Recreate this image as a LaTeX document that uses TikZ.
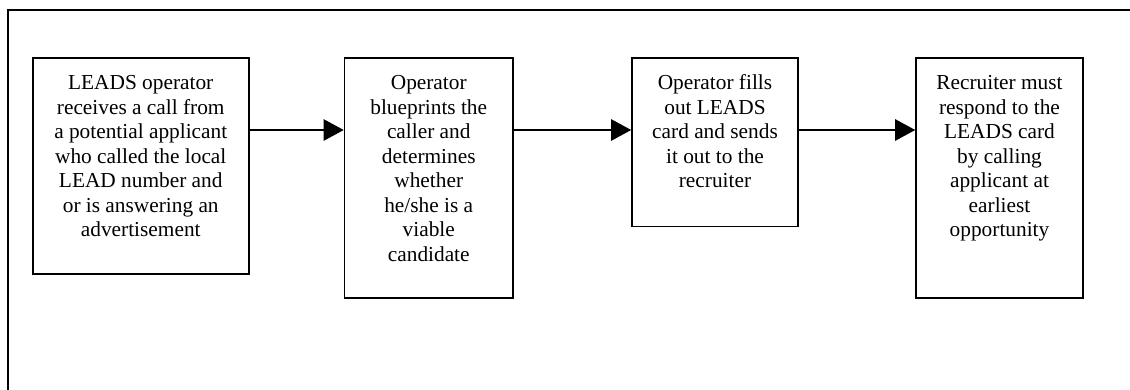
\documentclass[tikz,border=0pt]{standalone}
\usepackage{fontspec}
\setmainfont{Liberation Serif}
\usetikzlibrary{arrows.meta}
\begin{document}
\begin{tikzpicture}[x=0.75pt,y=-0.75pt,
  stepbox/.style={draw,line width=1.2pt,inner sep=0pt,minimum width=#1},
  txt/.style={anchor=base,inner sep=0pt,font=\fontsize{16}{18.4}\selectfont},
  arr/.style={line width=1pt,-{Triangle[length=15pt,width=16pt]}},
  frame/.style={line width=1.3pt}]
\useasboundingbox (0,0) rectangle (1130,389);
\draw[frame] (1135,10) -- (8,10) -- (8,395);
\node[stepbox=162pt,minimum height=162pt] (b1) at (140.75,166) {};
\node[stepbox=126.4pt,minimum height=180pt] (b2) at (428.75,178) {};
\node[stepbox=124.5pt,minimum height=126.4pt] (b3) at (715,142.25) {};
\node[stepbox=125.2pt,minimum height=180pt] (b4) at (999.5,178) {};
\coordinate (lev) at (0,130);
\coordinate (tl) at (0,89.5);
\node[txt] (t1) at (b1.center |- tl) {\setlength{\tabcolsep}{0pt}\begin{tabular}[t]{c}LEADS operator\\receives a call from\\a potential applicant\\who called the local\\LEAD number and\\or is answering an\\advertisement\end{tabular}};
\node[txt] (t2) at (b2.center |- tl) {\setlength{\tabcolsep}{0pt}\begin{tabular}[t]{c}Operator\\blueprints the\\caller and\\determines\\whether\\he/she is a\\viable\\candidate\end{tabular}};
\node[txt] (t3) at (b3.center |- tl) {\setlength{\tabcolsep}{0pt}\begin{tabular}[t]{c}Operator fills\\out LEADS\\card and sends\\it out to the\\recruiter\end{tabular}};
\node[txt] (t4) at (b4.center |- tl) {\setlength{\tabcolsep}{0pt}\begin{tabular}[t]{c}Recruiter must\\respond to the\\LEADS card\\by calling\\applicant at\\earliest\\opportunity\end{tabular}};
\draw[arr] (b1.east |- lev) -- (b2.west |- lev);
\draw[arr] (b2.east |- lev) -- (b3.west |- lev);
\draw[arr] (b3.east |- lev) -- (b4.west |- lev);
\end{tikzpicture}
\end{document}
